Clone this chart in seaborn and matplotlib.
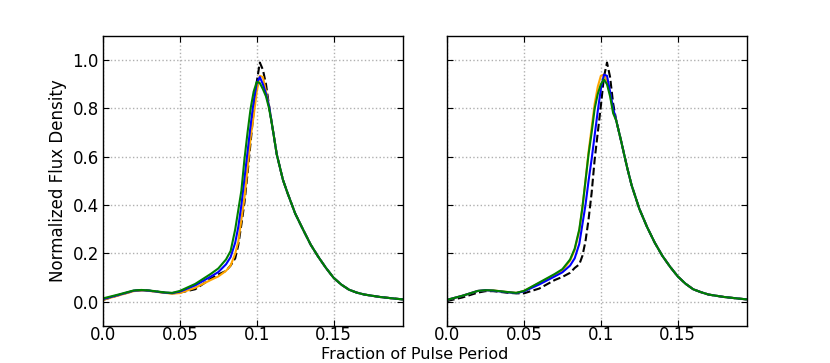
import numpy as np
import pandas as pd
import matplotlib
matplotlib.use("Agg")
import matplotlib.pyplot as plt
import seaborn as sns

# phase grid (fraction of pulse period)
phase = [0.0, 0.01, 0.02, 0.025, 0.03, 0.04, 0.045, 0.05, 0.06, 0.07, 0.075,
         0.08, 0.083, 0.086, 0.088, 0.09, 0.092, 0.094, 0.096, 0.098, 0.1,
         0.102, 0.104, 0.106, 0.108, 0.11, 0.113, 0.117, 0.12, 0.125, 0.13,
         0.135, 0.14, 0.145, 0.15, 0.155, 0.16, 0.165, 0.17, 0.18, 0.19, 0.195]

xtick_vals = [0.0, 0.05, 0.1, 0.15]
xtick_labels = ["0.0", "0.05", "0.1", "0.15"]

# left panel
left_tail = [0.73, 0.61, 0.505, 0.45, 0.365, 0.30, 0.237, 0.186, 0.14, 0.099,
             0.071, 0.05, 0.038, 0.03, 0.02, 0.013, 0.01]
left_black = [0.008, 0.027, 0.045, 0.048, 0.046, 0.038, 0.035, 0.038, 0.052, 0.095, 0.113,
              0.128, 0.15, 0.18, 0.235, 0.32, 0.41, 0.53, 0.66, 0.79, 0.91,
              0.99, 0.96, 0.90, 0.81] + left_tail
left_orange = [0.008, 0.026, 0.044, 0.047, 0.045, 0.037, 0.034, 0.036, 0.058, 0.09, 0.105,
               0.128, 0.15, 0.20, 0.25, 0.34, 0.43, 0.55, 0.68, 0.77, 0.87,
               0.935, 0.93, 0.87, 0.81] + left_tail
left_blue = [0.011, 0.028, 0.046, 0.048, 0.046, 0.038, 0.036, 0.042, 0.068, 0.104, 0.123,
             0.155, 0.185, 0.245, 0.31, 0.40, 0.51, 0.62, 0.73, 0.83, 0.905,
             0.93, 0.90, 0.86, 0.81] + left_tail
left_green = [0.014, 0.03, 0.047, 0.049, 0.047, 0.039, 0.037, 0.045, 0.074, 0.115, 0.138,
              0.175, 0.21, 0.30, 0.38, 0.46, 0.59, 0.70, 0.80, 0.87, 0.91,
              0.905, 0.88, 0.85, 0.80] + left_tail

# right panel
right_tail = [0.75, 0.67, 0.558, 0.482, 0.385, 0.31, 0.245, 0.19, 0.145, 0.105,
              0.075, 0.052, 0.04, 0.03, 0.02, 0.013, 0.01]
right_black = [0.003, 0.018, 0.038, 0.044, 0.044, 0.037, 0.035, 0.035, 0.055, 0.09, 0.103,
               0.12, 0.14, 0.155, 0.19, 0.25, 0.34, 0.45, 0.59, 0.70, 0.81,
               0.93, 0.99, 0.93, 0.82] + right_tail
right_orange = [0.008, 0.025, 0.045, 0.048, 0.047, 0.04, 0.037, 0.045, 0.078, 0.112, 0.13,
                0.17, 0.215, 0.295, 0.39, 0.50, 0.62, 0.72, 0.82, 0.89, 0.935,
                0.94, 0.91, 0.86, 0.79] + right_tail
right_blue = [0.008, 0.025, 0.045, 0.048, 0.046, 0.039, 0.036, 0.043, 0.072, 0.105, 0.122,
              0.15, 0.18, 0.24, 0.32, 0.40, 0.50, 0.59, 0.69, 0.79, 0.88,
              0.94, 0.935, 0.87, 0.80] + right_tail
right_green = [0.008, 0.025, 0.045, 0.048, 0.047, 0.04, 0.037, 0.045, 0.08, 0.115, 0.135,
               0.175, 0.22, 0.30, 0.39, 0.50, 0.61, 0.70, 0.80, 0.86, 0.90,
               0.92, 0.90, 0.85, 0.78] + right_tail

sns.set_style("white")
plt.rcParams["font.family"] = ["DejaVu Sans"]
plt.rcParams["text.color"] = "black"
plt.rcParams["axes.labelcolor"] = "black"
plt.rcParams["xtick.color"] = "black"
plt.rcParams["ytick.color"] = "black"

fig, axes = plt.subplots(1, 2, figsize=(8.3, 3.63), dpi=100, sharey=True)
fig.subplots_adjust(left=0.124, right=0.9, bottom=0.102, top=0.901, wspace=0.147)

panels = [
    (left_black, left_orange, left_blue, left_green),
    (right_black, right_orange, right_blue, right_green),
]

for ax, (k, o, b, g) in zip(axes, panels):
    sns.lineplot(x=phase, y=k, ax=ax, color="black", linestyle="--", lw=1.5, sort=False)
    sns.lineplot(x=phase, y=o, ax=ax, color="orange", lw=1.5, sort=False)
    sns.lineplot(x=phase, y=b, ax=ax, color="blue", lw=1.5, sort=False)
    sns.lineplot(x=phase, y=g, ax=ax, color="green", lw=1.5, sort=False)
    ax.set_xlim(0, 0.195)
    ax.set_ylim(-0.1, 1.1)
    ax.set_xticks(xtick_vals)
    ax.set_xticklabels(xtick_labels)
    ax.set_yticks([0.0, 0.2, 0.4, 0.6, 0.8, 1.0])
    ax.grid(True, color="#b0b0b0", linestyle=":", linewidth=1)
    ax.tick_params(direction="in", length=4, top=True, right=True, labelsize=12,
                   left=True, bottom=True, colors="black")
    ax.tick_params(axis="y", pad=3)
    ax.tick_params(axis="x", pad=0)
    for s in ax.spines.values():
        s.set_color("black")
        s.set_linewidth(1)

axes[0].set_ylabel("Normalized Flux Density", fontsize=12, color="black")
axes[1].tick_params(labelleft=False)
fig.text(0.5, 0.003, "Fraction of Pulse Period", ha="center", va="bottom",
         fontsize=11.5, color="black")

fig.savefig("out.png", dpi=100)
